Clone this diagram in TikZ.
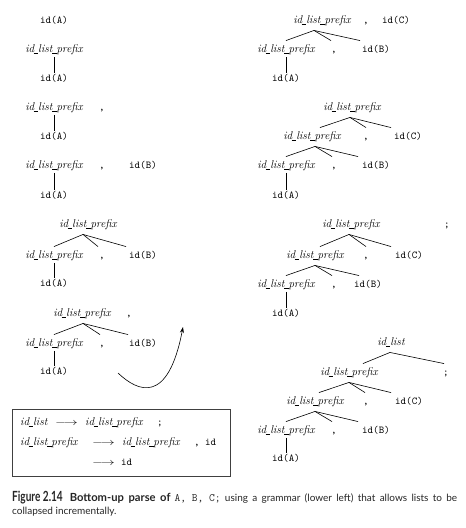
\documentclass[tikz,border=0pt]{standalone}
\usepackage{fontspec}
\usepackage{graphicx}
\usetikzlibrary{arrows.meta}
\newfontfamily\capfont{Lato}
\newcommand\tedge[4]{\draw[tl] ([xshift=#2pt,yshift=-4pt]#1.south) -- ([xshift=#4pt,yshift=4pt]#3.north);}
\newcommand\vedge[2]{\draw[tl] ([yshift=-1.5pt]#1.south) -- ([yshift=1pt]#2.north);}
\newcommand\us{\kern-0.6pt\rule[-0.9pt]{4.6pt}{0.45pt}\kern-0.1pt}
\newcommand\ilp{id\us list\us prefix}
\begin{document}
\begin{tikzpicture}[x=1pt,y=-1pt,
  nt/.style={font=\fontsize{11.3}{13}\selectfont\itshape, text height=8pt, text depth=2.5pt, inner sep=0pt},
  tm/.style={font=\fontsize{10.5}{12}\selectfont\ttfamily, text height=8pt, text depth=2.5pt, inner sep=0pt},
  tl/.style={line width=0.6pt},
  bx/.style={anchor=west, inner sep=0pt, text height=8pt, text depth=2.5pt}]
\useasboundingbox (0,0) rectangle (466,528);
% ---------- left column ----------
\node[tm] (a1) at (54,21) {id(A)};
\node[nt] (b1) at (54,50) {\ilp};
\node[tm] (b2) at (54,79) {id(A)};
\vedge{b1}{b2}
\node[nt] (c1) at (54,108) {\ilp};
\node[tm] (c2) at (102,108) {,};
\node[tm] (c3) at (54,137) {id(A)};
\vedge{c1}{c3}
\node[nt] (d1) at (54,166) {\ilp};
\node[tm] (d2) at (102,166) {,};
\node[tm] (d3) at (143,166) {id(B)};
\node[tm] (d4) at (54,196) {id(A)};
\vedge{d1}{d4}
% tree L5
\node[nt] (e0) at (88,225) {\ilp};
\node[nt] (e1) at (54,256) {\ilp};
\node[tm] (e2) at (102,256) {,};
\node[tm] (e3) at (143,256) {id(B)};
\node[tm] (e4) at (54,284) {id(A)};
\tedge{e0}{-5}{e1}{0}
\tedge{e0}{-5}{e2}{-4}
\tedge{e0}{-5}{e3}{-17}
\vedge{e1}{e4}
% tree L6
\node[nt] (f0) at (82,314) {\ilp};
\node[tm] (f0c) at (129,314) {,};
\node[nt] (f1) at (54,344) {\ilp};
\node[tm] (f2) at (102,344) {,};
\node[tm] (f3) at (143,344) {id(B)};
\node[tm] (f4) at (54,372) {id(A)};
\tedge{f0}{1}{f1}{0}
\tedge{f0}{1}{f2}{-2}
\tedge{f0}{1}{f3}{-15}
\vedge{f1}{f4}
% curved arrow
\coordinate (cs) at (118,373);
\coordinate (ce) at (183,327);
\draw[tl, -{Stealth[length=6pt,width=4pt]}] (cs) .. controls (138,392) and (168,405) .. (ce);
% ---------- right column ----------
% tree R1
\node[nt] (g0) at (322,21) {\ilp};
\node[tm] (g0c) at (366,21) {,};
\node[tm] (g0d) at (396,21) {id(C)};
\node[nt] (g1) at (286,50) {\ilp};
\node[tm] (g2) at (334,50) {,};
\node[tm] (g3) at (376,50) {id(B)};
\node[tm] (g4) at (286,79) {id(A)};
\tedge{g0}{-8}{g1}{0}
\tedge{g0}{-8}{g2}{-3}
\tedge{g0}{-8}{g3}{-16}
\vedge{g1}{g4}
% tree R2
\node[nt] (h0) at (352,108) {\ilp};
\node[nt] (h1) at (312,137) {\ilp};
\node[tm] (h1c) at (366,137) {,};
\node[tm] (h1d) at (408,137) {id(C)};
\node[nt] (h2) at (286,166) {\ilp};
\node[tm] (h2c) at (334,166) {,};
\node[tm] (h2d) at (376,166) {id(B)};
\node[tm] (h3) at (286,196) {id(A)};
\tedge{h0}{-2}{h1}{8}
\tedge{h0}{-2}{h1c}{0}
\tedge{h0}{-2}{h1d}{-17}
\tedge{h1}{3}{h2}{0}
\tedge{h1}{3}{h2c}{-2}
\tedge{h1}{3}{h2d}{-18}
\vedge{h2}{h3}
% tree R3
\node[nt] (i0) at (351,225) {\ilp};
\node[tm] (i0s) at (447,225) {;};
\node[nt] (i1) at (315,256) {\ilp};
\node[tm] (i1c) at (366,256) {,};
\node[tm] (i1d) at (409,256) {id(C)};
\node[nt] (i2) at (286,285) {\ilp};
\node[tm] (i2c) at (334,285) {,};
\node[tm] (i2d) at (368,285) {id(B)};
\node[tm] (i3) at (286,314) {id(A)};
\tedge{i0}{-2}{i1}{5}
\tedge{i0}{-2}{i1c}{0}
\tedge{i0}{-2}{i1d}{-18}
\tedge{i1}{0}{i2}{0}
\tedge{i1}{0}{i2c}{-2}
\tedge{i1}{0}{i2d}{-9}
\vedge{i2}{i3}
% tree R4
\node[nt] (j0) at (391,343) {id\us list};
\node[nt] (j1) at (349,373) {\ilp};
\node[tm] (j1s) at (446,373) {;};
\node[nt] (j2) at (315,402) {\ilp};
\node[tm] (j2c) at (366,402) {,};
\node[tm] (j2d) at (409,402) {id(C)};
\node[nt] (j3) at (286,431) {\ilp};
\node[tm] (j3c) at (334,431) {,};
\node[tm] (j3d) at (376,431) {id(B)};
\node[tm] (j4) at (286,459) {id(A)};
\tedge{j0}{-1}{j1}{14}
\tedge{j0}{-1}{j1s}{-2}
\tedge{j1}{0}{j2}{4}
\tedge{j1}{0}{j2c}{-1}
\tedge{j1}{0}{j2d}{-18}
\tedge{j2}{0}{j3}{0}
\tedge{j2}{0}{j3c}{-2}
\tedge{j2}{0}{j3d}{-18}
\vedge{j3}{j4}
% ---------- grammar box ----------
\node[draw=black!75, line width=0.8pt, minimum width=218pt, minimum height=67pt, inner sep=0pt] (gbox) at (121,442.5) {};
\node[nt, bx] (r1a) at (20,423) {id\us list};
\node[bx] (r1b) at (55,423) {\scalebox{1.4}[1]{$\longrightarrow$}};
\node[nt, bx] (r1c) at (85,423) {\ilp};
\node[tm, bx] (r1d) at (157,423) {;};
\node[nt, bx] (r2a) at (20,443) {\ilp};
\node[bx] (r2b) at (92,443) {\scalebox{1.4}[1]{$\longrightarrow$}};
\node[nt, bx] (r2c) at (122,443) {\ilp};
\node[tm, bx] (r2d) at (194,443) {, id};
\node[bx] (r3b) at (92,463) {\scalebox{1.4}[1]{$\longrightarrow$}};
\node[tm, bx] (r3c) at (121,463) {id};
% ---------- caption ----------
\node[anchor=base west, inner sep=0pt, font=\capfont\fontsize{10}{12}\selectfont, text=black!85] (cap1) at (12,501)
  {\hbox to 445pt{{\fontsize{14}{15}\selectfont\scalebox{0.72}[1]{\textbf{Figure 2.14}}}\hspace{7pt}{\fontsize{11.2}{12}\selectfont\textbf{Bottom-up parse of}}\hspace{4pt}{\fontsize{11.2}{12}\selectfont\ttfamily A, B, C;} using a grammar (lower left) that allows lists to be}};
\node[anchor=base west, inner sep=0pt, font=\capfont\fontsize{10}{12}\selectfont, text=black!85] (cap2) at (12,514)
  {collapsed incrementally.};
\end{tikzpicture}
\end{document}
